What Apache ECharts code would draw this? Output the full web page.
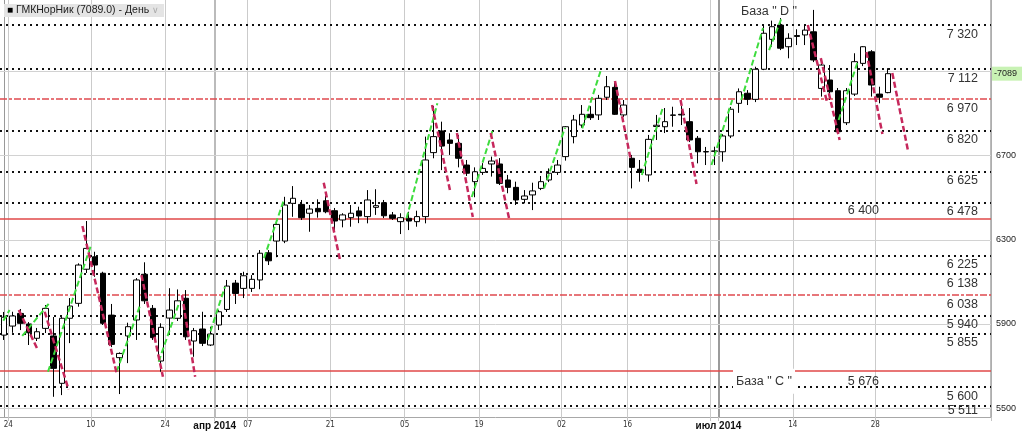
<!DOCTYPE html>
<html><head><meta charset="utf-8">
<script src="https://cdn.jsdelivr.net/npm/echarts@6/dist/echarts.min.js"></script>
<style>html,body{margin:0;padding:0;background:#fff}#c{width:1024px;height:431px}</style>
</head><body><div id="c"></div>
<script>
// trading days (2014), plus empty future days on the right
const dates = [
 '02-21','02-24','02-25','02-26','02-27','02-28',
 '03-03','03-04','03-05','03-06','03-07','03-11','03-12','03-13','03-14',
 '03-17','03-18','03-19','03-20','03-21','03-24','03-25','03-26','03-27','03-28','03-31',
 '04-01','04-02','04-03','04-04','04-07','04-08','04-09','04-10','04-11',
 '04-14','04-15','04-16','04-17','04-18','04-21','04-22','04-23','04-24','04-25',
 '04-28','04-29','04-30','05-02','05-05','05-06','05-07','05-08',
 '05-12','05-13','05-14','05-15','05-16','05-19','05-20','05-21','05-22','05-23',
 '05-26','05-27','05-28','05-29','05-30','06-02','06-03','06-04','06-05','06-06',
 '06-09','06-10','06-11','06-16','06-17','06-18','06-19','06-20',
 '06-23','06-24','06-25','06-26','06-27','06-30','07-01','07-02','07-03','07-04',
 '07-07','07-08','07-09','07-10','07-11','07-14','07-15','07-16','07-17','07-18',
 '07-21','07-22','07-23','07-24','07-25','07-28','07-29',
 '07-30','07-31','08-01','08-04','08-05','08-06','08-07','08-08','08-11','08-12','08-13','08-14'
];
// [open, close, low, high]
const candles = [
 [5847,5932,5824,5957],[5890,5938,5858,5958],[5950,5903,5871,5971],[5900,5858,5800,5909],
 [5832,5863,5819,5881],[5879,5974,5857,5990],[5843,5689,5554,5933],[5618,5927,5562,5933],
 [5927,5985,5809,6023],[5998,6180,5982,6188],[6160,6259,6142,6389],[6219,6180,6124,6243],
 [6141,5903,5895,6148],[5942,5803,5790,5995],[5740,5760,5567,5765],[5843,5887,5714,5906],
 [5919,6109,5824,6118],[6136,6010,5995,6193],[5974,5835,5824,5990],[5724,5884,5673,5903],
 [5928,5966,5848,6070],[5927,6010,5914,6064],[6022,5839,5824,6061],[5819,5868,5744,5881],
 [5876,5808,5795,5958],[5800,5852,5795,5887],[5895,5958,5871,5966],[5969,6080,5957,6109],
 [6094,6045,5995,6109],[6069,6129,6023,6148],[6069,6112,6052,6132],[6109,6236,6065,6251],
 [6238,6200,6180,6251],[6294,6373,6217,6384],[6294,6465,6284,6504],[6473,6497,6409,6555],
 [6468,6405,6394,6489],[6426,6446,6338,6465],[6449,6433,6405,6492],[6485,6433,6426,6508],
 [6438,6389,6346,6451],[6394,6418,6359,6426],[6405,6426,6362,6465],[6437,6413,6379,6457],
 [6410,6489,6378,6536],[6454,6462,6418,6540],[6476,6414,6403,6489],[6418,6402,6394,6432],
 [6386,6405,6327,6426],[6402,6389,6346,6433],[6386,6410,6362,6438],[6410,6679,6378,6790],
 [6714,6790,6687,6935],[6817,6745,6631,6861],[6774,6758,6703,6806],[6758,6687,6644,6798],
 [6655,6616,6603,6679],[6576,6623,6502,6644],[6620,6639,6608,6664],[6660,6674,6600,6695],
 [6660,6568,6560,6688],[6584,6549,6521,6608],[6549,6489,6465,6576],[6492,6508,6473,6536],
 [6513,6532,6441,6571],[6544,6576,6536,6603],[6584,6616,6574,6639],[6620,6655,6608,6679],
 [6695,6837,6676,6840],[6790,6869,6758,6893],[6845,6896,6831,6940],[6896,6880,6869,6935],
 [6893,6972,6869,6988],[6977,7027,6964,7078],[7024,6896,6893,7051],[6893,6940,6883,6964],
 [6687,6644,6544,6703],[6635,6620,6576,6679],[6608,6777,6576,6798],[6838,6844,6774,6893],
 [6837,6861,6807,6926],[6891,6893,6837,6932],[6896,6893,6845,6935],[6861,6774,6764,6926],
 [6782,6718,6663,6793],[6717,6719,6655,6741],[6720,6722,6655,6742],[6718,6793,6671,6802],
 [6793,6920,6783,6931],[6948,7003,6903,7019],[6996,6967,6940,7011],[6967,7110,6954,7122],
 [7110,7281,7106,7320],[7252,7312,7217,7341],[7320,7210,7201,7353],[7217,7257,7162,7281],
 [7270,7266,7225,7300],[7273,7296,7225,7320],[7288,7154,7144,7392],[7019,7130,6980,7146],
 [7059,7003,6964,7130],[7008,6813,6806,7021],[6856,7008,6845,7021],[6992,7146,6983,7186],
 [7138,7217,7125,7220],[7193,7035,6980,7201],[6992,6977,6948,7027],[6999,7089,6996,7115]
];
// dashed trend segments: [dayIndex1, value1, dayIndex2, value2]
const upLines = [
 [-0.1,5915,0.66,5966],[2.19,5843,5.39,5995],[5.31,5673,10.53,6275],[13.62,5673,16.43,5985],
 [18.71,5721,21.24,6006],[24.65,5824,26.74,6077],[31.47,6213,33.8,6481],[48.73,6402,52.46,6948],
 [56.63,6503,59.16,6821],[65.38,6544,67.91,6832],[70.0,6829,72.32,7114],[77.22,6608,79.75,6926],
 [85.65,6655,88.17,6964],[89.26,6964,91.9,7306],[92.63,7201,94.19,7358],[101.05,6869,103.34,7144]
];
const downLines = [
 [1.78,5966,3.99,5784],[4.91,5958,7.8,5589],[9.48,6365,13.62,5666],[16.63,6132,19.23,5649],
 [21.54,6037,23.13,5649],[38.7,6571,40.71,6196],[51.82,6940,53.98,6536],[54.83,6807,56.75,6408],
 [58.92,6807,61.21,6389],[73.97,7054,75.89,6679],[81.91,6964,83.84,6565],[97.32,7320,99.61,6959],
 [98.89,7163,101.17,6774],[104.42,7192,106.35,6802],[107.55,7092,109.48,6717]
];
const dottedLevels = [7320,7112,6820,6625,6478,6225,6138,5940,5855,5600,5511];
const dashDotLevels = [6970,6038];
const solidLevels = [6400,5676];
const yTicks = [5500,5900,6300,6700];
const yGrid = [5500,5900,6300,6700,7100];
const lastPrice = 7089;
const gridIdx = [1,11,20,30,40,49,58,68,76,86,96,106];
const sepIdx = [26,87];
const labelIdx = [1,11,20,26,30,40,49,58,68,76,87,96,106];
const labelText = ['24','10','24','{b|апр 2014}','07','21','05','19','02','16','{b|июл 2014}','14','28'];

const FONT = 'Liberation Sans, Arial, sans-serif';
const fmt = v => String(v).replace(/\B(?=(\d{3})+(?!\d))/g, ' ');
const lbl = (text, pos, dist, extra) => Object.assign({
  show: true, formatter: text, position: pos, distance: dist,
  color: '#333', fontSize: 12.5, fontFamily: FONT
}, extra || {});
const DOT = {color: '#111', width: 2, type: [2, 4]};
const DASHDOT = {color: '#e04a4f', width: 1.5, type: [7, 2, 3, 2]};
const SOLID = {color: '#e04848', width: 1.5, type: 'solid'};
const NONE = {color: 'rgba(0,0,0,0)', width: 1, type: 'solid'};
const GRID = {color: '#d2d2d2', width: 1, type: 'solid'};

const mlData = [];
yGrid.forEach(v => mlData.push({yAxis: v, lineStyle: GRID, label: {show: false}}));
dottedLevels.forEach(v => mlData.push({yAxis: v, lineStyle: DOT,
  label: lbl(fmt(v), 'insideEndBottom', v === 5511 ? [13, -2] : [13, 3])}));
dashDotLevels.forEach(v => mlData.push({yAxis: v, lineStyle: DASHDOT,
  label: lbl(fmt(v), 'insideEndBottom', [13, 3])}));
solidLevels.forEach(v => mlData.push({yAxis: v, lineStyle: SOLID,
  label: v === 6400 ? lbl(fmt(v), 'insideEndTop', [112, 2]) : lbl(fmt(v), 'insideEndBottom', [112, 3.75])}));
mlData.push({yAxis: lastPrice, lineStyle: NONE,
  label: {show: true, formatter: '-' + lastPrice, position: 'end', distance: 1, color: '#222',
    fontSize: 9, fontFamily: FONT, backgroundColor: '#c8f2b4', padding: [3, 5, 2, 2], opacity: 1}});
mlData.push({yAxis: 7320, lineStyle: NONE,
  label: lbl('База " D "', 'insideEndTop', [194, 7], {opacity: 1})});
mlData.push({yAxis: 5676, lineStyle: NONE,
  label: lbl('База " C "', 'insideEndBottom', [196, -2.25], {opacity: 1, backgroundColor: '#fff', padding: [6, 3, 6, 3]})});

const segSeries = (arr, color, width) => arr.map(s => ({
  type: 'line', xAxisIndex: 1, yAxisIndex: 0, data: [[s[0], s[1]], [s[2], s[3]]],
  symbol: 'none', silent: true, z: 4, animation: false,
  lineStyle: {color: color, width: width, type: [6, 3]}
}));

const option = {
  animation: false,
  textStyle: {fontFamily: FONT},
  title: {
    text: '{sq|■} ГМКНорНик (7089.0) - День {ch|∨}',
    left: 4, top: 4, padding: [1, 5, 1, 3], backgroundColor: '#e4e4e4',
    textStyle: {fontSize: 10.5, color: '#222', fontWeight: 'normal', fontFamily: FONT,
      rich: {sq: {fontSize: 10, color: '#000'}, ch: {fontSize: 9, color: '#aaa'}}}
  },
  grid: {left: -5.6, right: 33, top: 0, bottom: 14},
  xAxis: [
    {type: 'category', data: dates, boundaryGap: true,
     axisLine: {lineStyle: {color: '#a8a8a8'}},
     axisTick: {show: true, length: 4, interval: i => gridIdx.includes(i) || sepIdx.includes(i), lineStyle: {color: '#c4c4c4'}},
     axisLabel: {interval: i => labelIdx.includes(i), formatter: (v, i) => labelText[labelIdx.indexOf(i)] || '',
       margin: 4, padding: [0, 8.3, 0, 0], fontSize: 8, color: '#333',
       fontFamily: 'Liberation Sans Narrow, DejaVu Sans Condensed, Liberation Sans, sans-serif',
       rich: {b: {fontWeight: 'bold', fontSize: 10, color: '#111', fontFamily: FONT}}},
     splitLine: {show: true, interval: i => gridIdx.includes(i), lineStyle: {color: '#cbcbcb', width: 1}}},
    {type: 'value', min: -0.5, max: dates.length - 0.5, show: false},
    {type: 'category', data: dates, boundaryGap: true, position: 'top', show: true,
     axisLine: {show: false}, axisTick: {show: false}, axisLabel: {show: false},
     splitLine: {show: true, interval: i => sepIdx.includes(i), lineStyle: {color: ['#a4a4a4', '#7a7a7a'], width: 1.5}}}
  ],
  yAxis: {
    type: 'value', position: 'right', min: 5458, max: 7439,
    axisLine: {show: true, lineStyle: {color: '#999'}},
    axisTick: {show: true, length: 4, customValues: yTicks, lineStyle: {color: '#666'}},
    axisLabel: {customValues: yTicks, formatter: v => String(v), fontSize: 9, color: '#222', margin: 5, fontFamily: FONT},
    splitLine: {show: false}
  },
  series: [
    {type: 'candlestick', xAxisIndex: 0, yAxisIndex: 0, data: candles, barWidth: 6, z: 2,
     itemStyle: {color: '#fff', color0: '#000', borderColor: '#000', borderColor0: '#000', borderWidth: 1},
     markLine: {silent: true, symbol: ['none', 'none'], animation: false, z: 1, data: mlData}}
  ].concat(segSeries(upLines, '#3ddc3d', 2)).concat(segSeries(downLines, '#c6285c', 2.5))
};
const chart = echarts.init(document.getElementById('c'), null, {renderer: 'canvas'});
chart.setOption(option);
</script></body></html>
